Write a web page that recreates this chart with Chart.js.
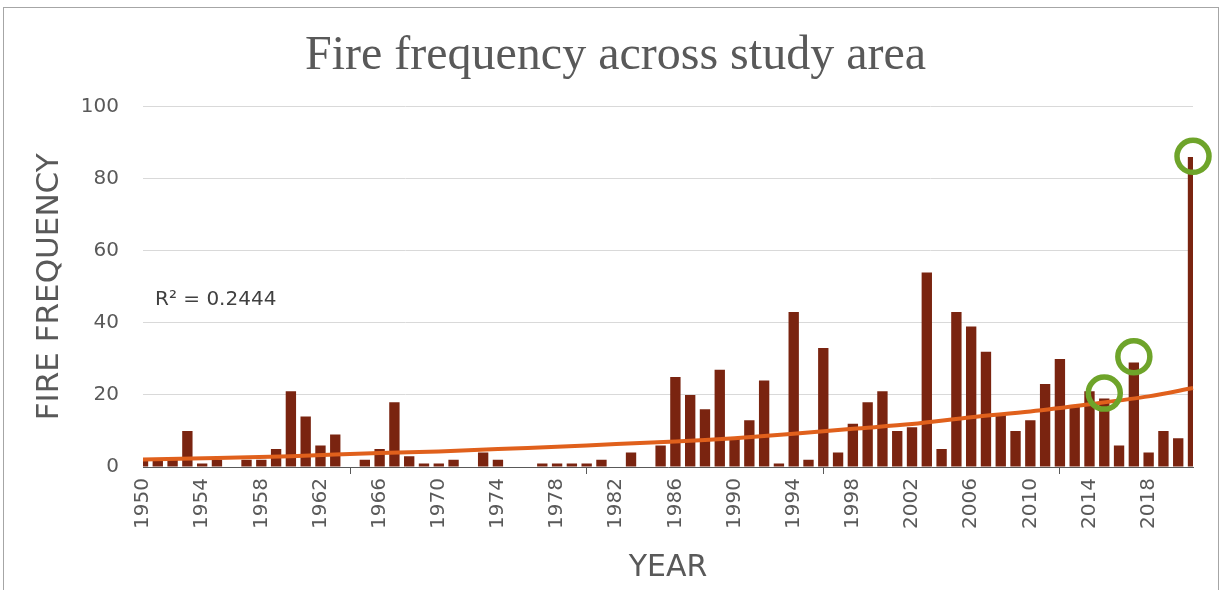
<!DOCTYPE html>
<html>
<head>
<meta charset="utf-8">
<title>Fire frequency across study area</title>
<script src="https://cdn.jsdelivr.net/npm/chart.js@4.4.0/dist/chart.umd.min.js"></script>
<style>
  body { margin: 0; background: #fff; }
  #wrap { position: relative; width: 1224px; height: 590px; overflow: hidden; }
  #frame { position: absolute; left: 3px; top: 7px; width: 1214px; height: 620px; border: 1px solid #a6a6a6; }
  canvas { position: absolute; left: 0; top: 0; }
</style>
</head>
<body>
<div id="wrap">
  <div id="frame"></div>
  <canvas id="fireChart" width="1224" height="590"></canvas>
</div>
<script>
// Categories: one bar per year
const firstYear = 1950;
const lastYear = 2021;
const tickEvery = 4; // label every 4th year
const years = [];
for (let y = firstYear; y <= lastYear; y++) years.push(String(y));

// Fire counts per year, 1950 - 2021
const fireCounts = [
    2, 2, 2, 10, 1, 2, 0, 2, 2, 5,        // 1950-1959
    21, 14, 6, 9, 0, 2, 5, 18, 3, 1,      // 1960-1969
    1, 2, 0, 4, 2, 0, 0, 1, 1, 1,         // 1970-1979
    1, 2, 0, 4, 0, 6, 25, 20, 16, 27,     // 1980-1989
    8, 13, 24, 1, 43, 2, 33, 4, 12, 18,   // 1990-1999
    21, 10, 11, 54, 5, 43, 39, 32, 15, 10, // 2000-2009
    13, 23, 30, 17, 21, 19, 6, 29, 4, 10, // 2010-2019
    8, 86                                 // 2020-2021
];

// Exponential trend line
const trendYears = ['1950', '1960', '1966', '1970', '1974', '1978', '1982', '1986',
    '1990', '1994', '1998', '2002', '2006', '2010', '2014', '2018', '2021'];
const trendValues = [2.1, 3.0, 3.9, 4.3, 5.0, 5.6, 6.4, 7.1,
    8.0, 9.2, 10.6, 11.9, 13.8, 15.4, 17.4, 19.6, 21.9];
const trendLabel = 'R\u00B2 = 0.2444';

// Highlighted years (green rings)
const highlightYears = ['2015', '2017', '2021'];
const highlightValues = [20.5, 30.6, 86.2];

const textColor = '#595959';
const sansFont = 'DejaVu Sans';

// Draws the R² note next to the trend line
const r2LabelPlugin = {
    id: 'r2Label',
    afterDatasetsDraw(chart) {
        const { ctx, chartArea, scales } = chart;
        ctx.save();
        ctx.font = `20px "${sansFont}"`;
        ctx.fillStyle = '#404040';
        ctx.textBaseline = 'middle';
        ctx.textAlign = 'left';
        ctx.fillText(trendLabel, chartArea.left + 12, scales.y.getPixelForValue(46.4));
        ctx.restore();
    }
};

function initChart() {
    const ctx = document.getElementById('fireChart').getContext('2d');
    new Chart(ctx, {
        type: 'bar',
        data: {
            labels: years,
            datasets: [
                {
                    type: 'line',
                    label: 'Highlights',
                    data: highlightYears.map((yr, i) => ({ x: yr, y: highlightValues[i] })),
                    showLine: false,
                    pointRadius: 16,
                    pointHoverRadius: 16,
                    pointBorderWidth: 5.5,
                    pointBorderColor: '#6ea42a',
                    pointBackgroundColor: 'rgba(0,0,0,0)',
                    clip: false,
                    order: 1
                },
                {
                    type: 'line',
                    label: 'Trend',
                    data: trendYears.map((yr, i) => ({ x: yr, y: trendValues[i] })),
                    borderColor: '#e0601c',
                    borderWidth: 4,
                    tension: 0.3,
                    pointRadius: 0,
                    order: 2
                },
                {
                    label: 'Fire frequency',
                    data: fireCounts,
                    backgroundColor: '#7a2410',
                    categoryPercentage: 1,
                    barPercentage: 0.7,
                    clip: 0,
                    order: 3
                }
            ]
        },
        options: {
            responsive: false,
            devicePixelRatio: 1,
            animation: false,
            layout: { padding: { top: 0, right: 0, bottom: 0, left: 7 } },
            plugins: {
                legend: { display: false },
                tooltip: { enabled: false },
                title: {
                    display: true,
                    text: 'Fire frequency across study area',
                    color: textColor,
                    font: { family: 'Liberation Serif', size: 48, weight: 'normal' },
                    padding: { top: 28, bottom: 21 }
                }
            },
            scales: {
                x: {
                    offset: false,
                    grid: {
                        drawOnChartArea: false,
                        drawTicks: true,
                        tickLength: 7,
                        tickColor: (c) => (c.index % tickEvery === 0 ? textColor : 'rgba(0,0,0,0)')
                    },
                    border: { color: textColor, width: 1 },
                    ticks: {
                        autoSkip: false,
                        minRotation: 90,
                        maxRotation: 90,
                        padding: 4,
                        color: textColor,
                        font: { family: sansFont, size: 20 },
                        callback(val, i) {
                            return i % tickEvery === 0 ? this.getLabelForValue(val) : null;
                        }
                    },
                    title: {
                        display: true,
                        text: 'YEAR',
                        color: textColor,
                        font: { family: sansFont, size: 30 },
                        padding: { top: 0, bottom: 4 }
                    },
                    afterFit(scale) { scale.height = 123; }
                },
                y: {
                    min: 0,
                    max: 100,
                    ticks: {
                        stepSize: 20,
                        padding: 24,
                        color: textColor,
                        font: { family: sansFont, size: 20 }
                    },
                    grid: { color: '#d9d9d9', drawTicks: false },
                    border: { display: false },
                    title: {
                        display: true,
                        text: 'FIRE FREQUENCY',
                        color: textColor,
                        font: { family: sansFont, size: 31 },
                        padding: { top: 24, bottom: 0 }
                    },
                    afterFit(scale) { scale.width = 136; }
                },
                // empty right-hand axis, only keeps room on the right side
                yRight: {
                    position: 'right',
                    min: 0,
                    max: 100,
                    grid: { display: false },
                    border: { display: false },
                    ticks: { display: false },
                    afterFit(scale) { scale.width = 31; }
                }
            }
        },
        plugins: [r2LabelPlugin]
    });
}

initChart();
</script>
</body>
</html>
